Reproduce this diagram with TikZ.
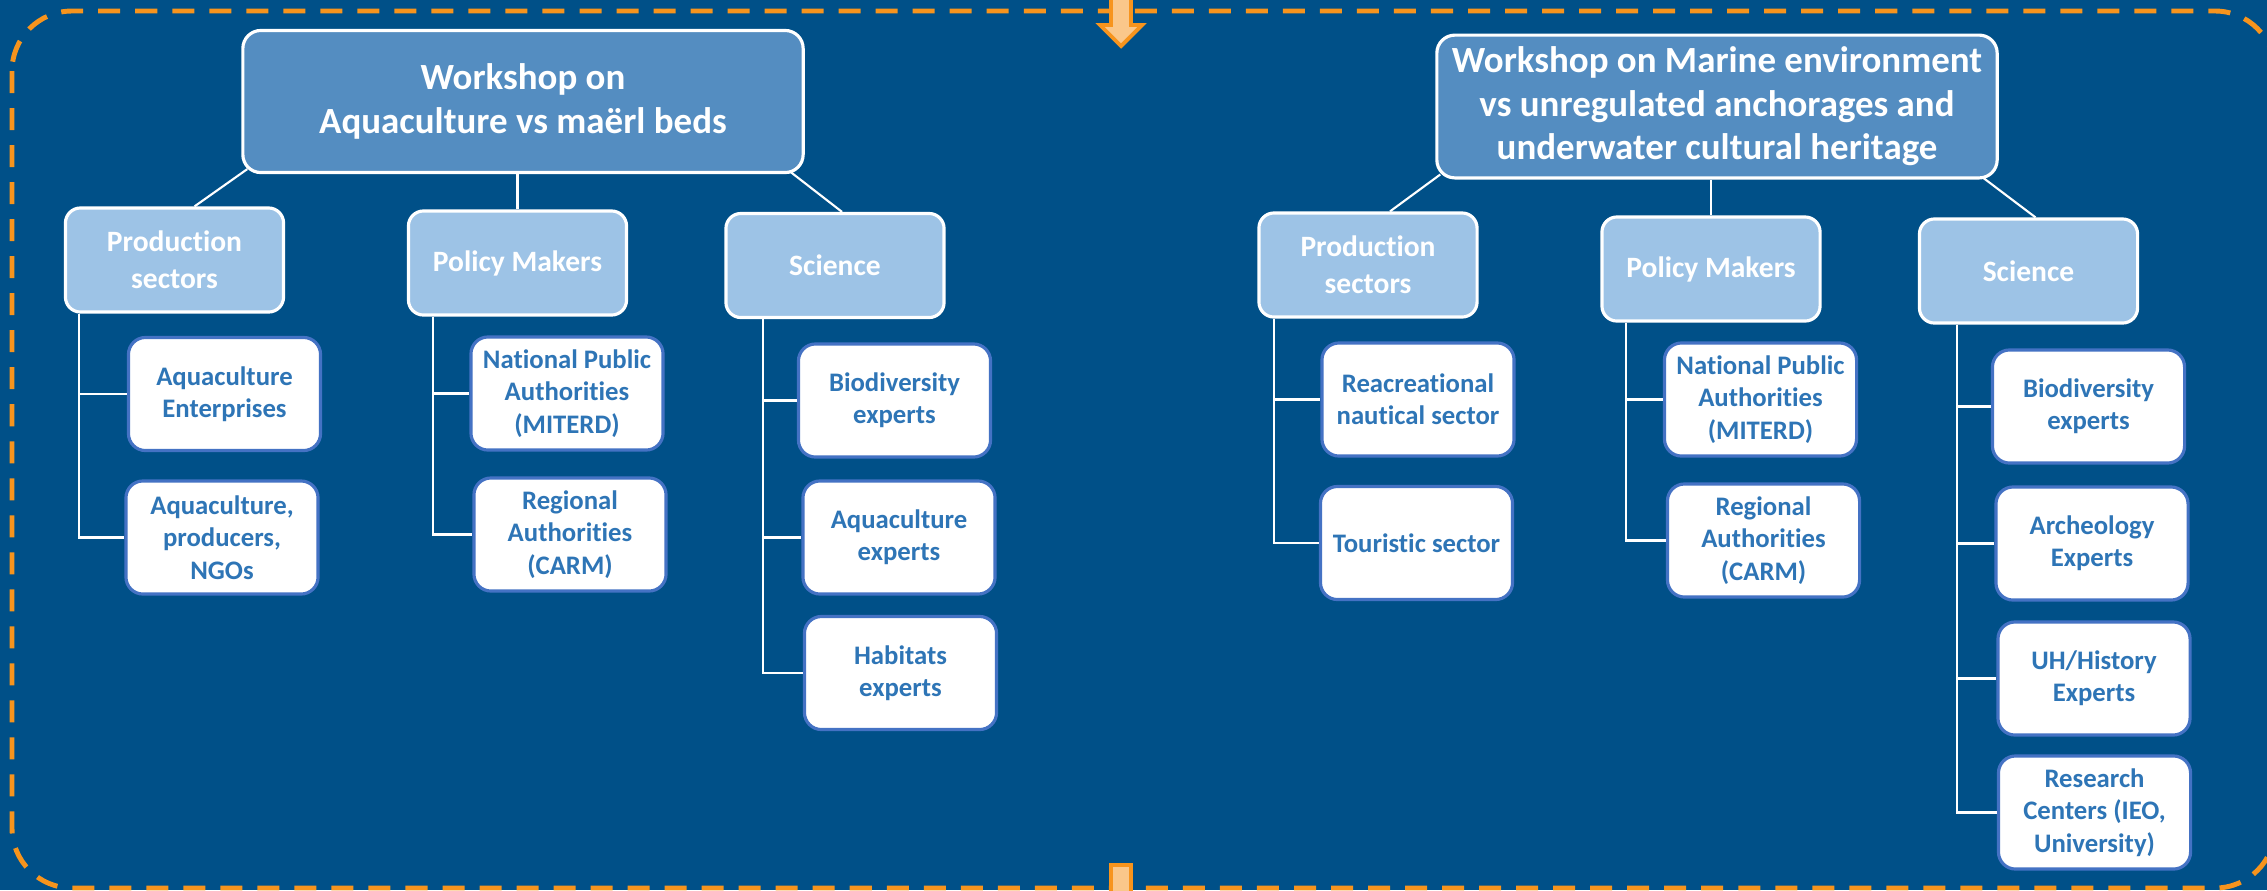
\documentclass[tikz,border=0pt]{standalone}
\usepackage{fontspec}
\setmainfont{Carlito}[Ligatures=NoCommon]
\usetikzlibrary{positioning}
\definecolor{bgblue}{RGB}{0,80,136}
\definecolor{rootblue}{RGB}{84,141,193}
\definecolor{catblue}{RGB}{157,195,230}
\definecolor{leafedge}{RGB}{68,114,196}
\definecolor{leaftext}{RGB}{46,117,182}
\definecolor{frameorange}{RGB}{247,148,29}
\definecolor{arrowfill}{RGB}{250,199,138}
\tikzset{
  rootbox/.style={rectangle,rounded corners=0.18cm,draw=white,line width=0.9pt,
    fill=rootblue,minimum width=5.6cm,minimum height=1.42cm,align=center,
    text=white,font=\fontsize{10.5}{12.4}\selectfont\bfseries},
  catbox/.style={rectangle,rounded corners=0.15cm,draw=white,line width=0.9pt,
    fill=catblue,minimum width=2.18cm,minimum height=1.04cm,align=center,
    text=white,font=\fontsize{8.4}{10.5}\selectfont\bfseries},
  leafbox/.style={rectangle,rounded corners=0.17cm,draw=leafedge,line width=0.9pt,
    fill=white,minimum width=1.92cm,minimum height=1.13cm,align=center,
    text=leaftext,font=\fontsize{7.6}{9.2}\selectfont\bfseries},
  linkline/.style={white,line width=0.6pt},
  dashframe/.style={frameorange,line width=1.4pt,
    dash pattern=on 0.22cm off 0.15cm,rounded corners=0.6cm},
  flowarrow/.style={draw=frameorange,fill=arrowfill,line width=1.1pt}
}
\begin{document}
\begin{tikzpicture}[x=0.01cm,y=-0.01cm]
  \fill[bgblue] (0,0) rectangle (2267,890);
  \useasboundingbox (0,0) rectangle (2267,890);
  \draw[dashframe] (12,11) rectangle (2275,888);
  \draw[flowarrow] (1111,-10) -- (1111,25) -- (1100,25) -- (1121,46)
    -- (1142,25) -- (1131,25) -- (1131,-10) -- cycle;
  \draw[flowarrow] (1111,865) rectangle (1131,905);

  \node[rootbox] (root1) at (523,101.5) {Workshop on\\Aquaculture vs maërl beds};
  \node[catbox] (prod1) at (174.5,260) {Production\\sectors};
  \node[catbox] (pol1) at (517.5,263) {Policy Makers};
  \node[catbox] (sci1) at (835,265.5) {Science};
  \node[leafbox] (ae1) at (224.5,394) {Aquaculture\\Enterprises};
  \node[leafbox] (apn1) at (222,537.5) {Aquaculture,\\producers,\\NGOs};
  \node[leafbox] (npa1) at (567,393.5) {National Public\\Authorities\\(MITERD)};
  \node[leafbox] (ra1) at (570,534.5) {Regional\\Authorities\\(CARM)};
  \node[leafbox] (bio1) at (894.5,400.5) {Biodiversity\\experts};
  \node[leafbox] (aqx1) at (899,537.5) {Aquaculture\\experts};
  \node[leafbox] (hab1) at (900.5,673) {Habitats\\experts};

  \node[rootbox] (root2) at (1717,106.5) {Workshop on Marine environment\\vs unregulated anchorages and\\underwater cultural heritage};
  \node[catbox] (prod2) at (1368,265) {Production\\sectors};
  \node[catbox] (pol2) at (1711,269) {Policy Makers};
  \node[catbox] (sci2) at (2028.5,271) {Science};
  \node[leafbox] (rns2) at (1418,399.5) {Reacreational\\nautical sector};
  \node[leafbox] (tour2) at (1416.5,543) {Touristic sector};
  \node[leafbox] (npa2) at (1760.5,399.5) {National Public\\Authorities\\(MITERD)};
  \node[leafbox] (ra2) at (1763.5,540.5) {Regional\\Authorities\\(CARM)};
  \node[leafbox] (bio2) at (2088.5,406.5) {Biodiversity\\experts};
  \node[leafbox] (arch2) at (2092,543.5) {Archeology\\Experts};
  \node[leafbox] (uh2) at (2094,678.5) {UH/History\\Experts};
  \node[leafbox] (rc2) at (2094.5,812.5) {Research\\Centers (IEO,\\University)};

  \draw[linkline] ([xshift=0.06cm,yshift=0.05cm]root1.south west) -- ([xshift=0.2cm]prod1.north);
  \draw[linkline] (pol1.north |- root1.south) -- (pol1.north);
  \draw[linkline] ([xshift=-0.14cm,yshift=0.02cm]root1.south east) -- ([xshift=0.07cm]sci1.north);
  \draw[linkline] ([xshift=0.05cm,yshift=0.05cm]root2.south west) -- ([xshift=0.22cm]prod2.north);
  \draw[linkline] (pol2.north |- root2.south) -- (pol2.north);
  \draw[linkline] ([xshift=-0.16cm,yshift=0.02cm]root2.south east) -- ([xshift=0.07cm]sci2.north);

  \coordinate (prod1trunk) at ([xshift=0.15cm]prod1.south west);
  \coordinate (pol1trunk) at ([xshift=0.26cm]pol1.south west);
  \coordinate (sci1trunk) at ([xshift=0.39cm]sci1.south west);
  \coordinate (prod2trunk) at ([xshift=0.17cm]prod2.south west);
  \coordinate (pol2trunk) at ([xshift=0.26cm]pol2.south west);
  \coordinate (sci2trunk) at ([xshift=0.39cm]sci2.south west);

  \draw[linkline] (prod1trunk) |- (ae1.west);
  \draw[linkline] (prod1trunk) |- (apn1.west);
  \draw[linkline] (pol1trunk) |- (npa1.west);
  \draw[linkline] (pol1trunk) |- (ra1.west);
  \draw[linkline] (sci1trunk) |- (bio1.west);
  \draw[linkline] (sci1trunk) |- (aqx1.west);
  \draw[linkline] (sci1trunk) |- (hab1.west);
  \draw[linkline] (prod2trunk) |- (rns2.west);
  \draw[linkline] (prod2trunk) |- (tour2.west);
  \draw[linkline] (pol2trunk) |- (npa2.west);
  \draw[linkline] (pol2trunk) |- (ra2.west);
  \draw[linkline] (sci2trunk) |- (bio2.west);
  \draw[linkline] (sci2trunk) |- (arch2.west);
  \draw[linkline] (sci2trunk) |- (uh2.west);
  \draw[linkline] (sci2trunk) |- (rc2.west);
\end{tikzpicture}
\end{document}
